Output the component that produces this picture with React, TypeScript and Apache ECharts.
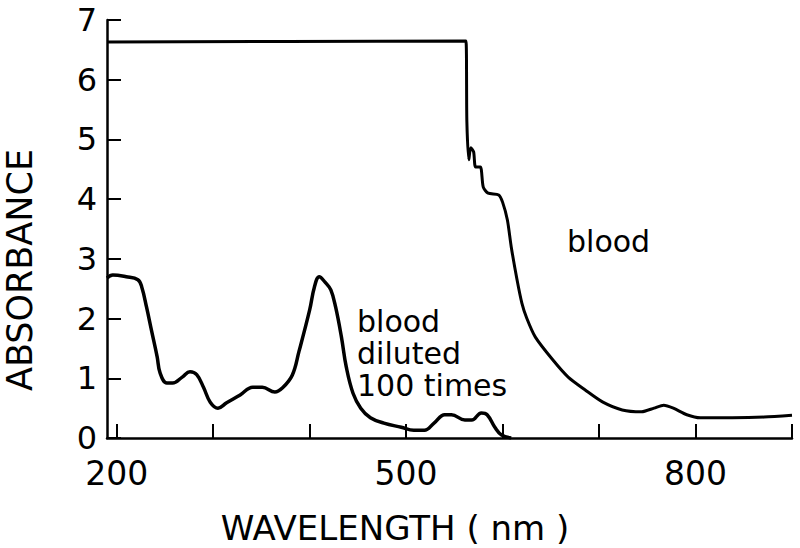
import React, { useEffect, useRef } from "react";
import * as echarts from "echarts";

// Blood diluted 100 times
const wavelengthDiluted = [190, 196, 210, 222, 226, 231, 236, 242, 245, 252, 258, 268, 276, 283, 290, 297, 305, 314, 328, 341, 351, 364, 372, 382, 389, 400, 405, 410, 416, 422, 427, 433, 438, 445, 453, 463, 477, 495, 508, 519, 529, 540, 547, 561, 568, 578, 584, 592, 599, 609];
const absorbanceDiluted = [2.68, 2.73, 2.70, 2.65, 2.53, 2.19, 1.81, 1.36, 1.09, 0.92, 0.92, 1.02, 1.11, 1.06, 0.85, 0.60, 0.50, 0.59, 0.72, 0.85, 0.85, 0.77, 0.84, 1.05, 1.45, 2.14, 2.53, 2.70, 2.61, 2.48, 2.19, 1.69, 1.19, 0.75, 0.50, 0.34, 0.25, 0.18, 0.13, 0.13, 0.25, 0.39, 0.39, 0.30, 0.30, 0.42, 0.39, 0.18, 0.05, 0.00];

// Whole blood
const wavelengthBlood = [190, 562, 563, 565, 567, 570, 572, 577, 580, 585, 596, 600, 605, 609, 615, 620, 625, 634, 652, 668, 686, 704, 724, 744, 757, 767, 777, 791, 805, 838, 871, 900];
const absorbanceBlood = [6.63, 6.65, 5.3, 4.66, 4.86, 4.79, 4.54, 4.54, 4.2, 4.1, 4.07, 3.95, 3.65, 3.2, 2.65, 2.26, 2.01, 1.69, 1.31, 1.02, 0.80, 0.60, 0.47, 0.44, 0.50, 0.55, 0.50, 0.39, 0.34, 0.34, 0.35, 0.38];

const xTicks = [200, 300, 400, 500, 600, 700, 800, 900];
const xTickLabels = [200, 500, 800];
const yTicks = [0, 1, 2, 3, 4, 5, 6, 7];

const xTitle = "WAVELENGTH ( nm )";
const yTitle = "ABSORBANCE";
const bloodLabel = "blood";
const dilutedLabel = "blood\ndiluted\n100 times";

const FONT = "DejaVu Sans";

export default function App() {
  const ref = useRef<HTMLDivElement>(null);
  useEffect(() => {
    if (!ref.current) return;
    const chart = echarts.init(ref.current, null, { renderer: "svg" });
    const pair = (xs: number[], ys: number[]) => xs.map((x, i) => [x, ys[i]]);
    chart.setOption({
      animation: false,
      backgroundColor: "#ffffff",
      grid: { left: 107, top: 20, right: 8, bottom: 110, containLabel: false },
      xAxis: {
        type: "value",
        min: 190,
        max: 900,
        axisLine: { show: true, lineStyle: { color: "#000", width: 2.5 } },
        axisTick: { show: true, inside: true, length: 14, customValues: xTicks, lineStyle: { color: "#000", width: 2 } },
        axisLabel: { show: true, customValues: xTickLabels, margin: 19, color: "#000", fontSize: 33, fontFamily: FONT },
        splitLine: { show: false },
      },
      yAxis: {
        type: "value",
        min: 0,
        max: 7,
        interval: 1,
        axisLine: { show: true, lineStyle: { color: "#000", width: 2.5 } },
        axisTick: { show: true, inside: true, length: 14, customValues: yTicks, lineStyle: { color: "#000", width: 2 } },
        axisLabel: { show: true, margin: 10, color: "#000", fontSize: 32, fontFamily: FONT },
        splitLine: { show: false },
      },
      series: [
        {
          type: "line",
          name: "blood",
          data: pair(wavelengthBlood, absorbanceBlood),
          showSymbol: false,
          smooth: 0.25,
          lineStyle: { color: "#000", width: 3 },
        },
        {
          type: "line",
          name: "blood diluted 100 times",
          data: pair(wavelengthDiluted, absorbanceDiluted),
          showSymbol: false,
          smooth: 0.4,
          lineStyle: { color: "#000", width: 3.5 },
        },
      ],
      graphic: [
        {
          type: "text",
          x: 395,
          y: 528,
          style: { text: xTitle, fill: "#000", font: `34px '${FONT}'`, align: "center", verticalAlign: "middle" },
        },
        {
          type: "text",
          x: 20,
          y: 270,
          rotation: Math.PI / 2,
          style: { text: yTitle, fill: "#000", font: `35px '${FONT}'`, align: "center", verticalAlign: "middle" },
        },
        {
          type: "text",
          x: 567,
          y: 241,
          style: { text: bloodLabel, fill: "#000", font: `30px '${FONT}'`, align: "left", verticalAlign: "middle" },
        },
        {
          type: "text",
          x: 357,
          y: 305,
          style: { text: dilutedLabel, fill: "#000", font: `30px '${FONT}'`, lineHeight: 32, align: "left", verticalAlign: "top" },
        },
      ],
    });
    return () => chart.dispose();
  }, []);
  return <div ref={ref} style={{ width: 800, height: 548, position: "absolute", left: 0, top: 0 }} />;
}
